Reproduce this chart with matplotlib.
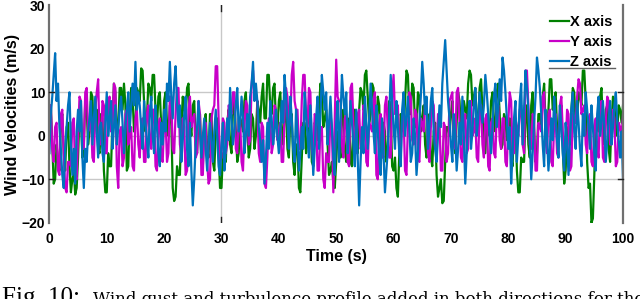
import numpy as np
import matplotlib
matplotlib.use("Agg")
import matplotlib.pyplot as plt
from matplotlib.lines import Line2D

# time span (s); samples are evenly spaced every 0.25 s
t_start, t_end = 0.0, 100.0

# X axis wind velocity (m/s), rows of 10 s
x_axis = [
    5, 7, -2, -11, -10, -2, -6, -8, 3, 5, -4, -8, 2, 3, -7, -13, -10, -8, -13.5, -12,
    -5, 5, 4, -5, -2, 8, 6, -2, 1, 10, 9, 0, 3, 6, -3, -4, 5, 4, -8, -13,
    -13, -4, -7, -7, 4, 12, 10, 0, 2, 11, 11, 6, 12, 7, -8, -7, 5, 11, 9, 1,
    3, 11, 10, 8, 15.5, 15, 8, 1, 4, 12, 11, 8, 14, 14, 6, 2, 9, 10, 2, -1,
    8, 10, 3, 0, 7, 3, -12, -15, -14, -7, -9, -9, 2, 9, 6, 4, 11, 12, 3, 0,
    7, 8, -2, -4, 4, 5, -5, -7, 2, 5, -3, -5, 5, 5, -6, -8, 1, 4, -4, -12,
    -12, -4, -5, -6, 3, 6, -2, -4, 6, 8, 1, -6, -4, 4, 3, 1, 8, 10, 2, -5,
    -3, 5, 4, -3, 0, 8, 6, 3, 9, 12, 4, 4, 14, 14, 7, 5, 11, 12, 3, 1,
    8, 10, 2, -2, 5, 6, -3, -5, 4, 5, -6, -9, -2, -2, -12, -13, -5, 3, 3, -4,
    -1, 7, 5, -6, -7, 3, 2, -1, 6, 12, 10, 2, 4, 6, -2, -9, -8, -6, -11, -12,
    -6, 1, -2, -5, 4, 6, -3, -6, 2, 4, -6, -7, 3, 6, -1, -4, 6, 11, 10, 6,
    14, 15, 9, 3, 5, 12, 11, 1, 2, 9, 7, -5, -5, 3, 1, -6, -3, 8, 6, -7,
    -8, -5, -12, -14, -4, 5, 3, 1, 8, 15, 14, 5, 5, 12, 11, 2, 2, 10, 9, 1,
    4, 7, -2, -5, 3, 5, -5, -7, 1, 3, -9, -14, -12, -10, -15.5, -15, -6, 2, 2, 0,
    5, 8, -1, -4, 3, 10, 8, 1, 2, 8, 6, 4, 12, 15, 14, 7, 9, 11, 4, 2,
    11, 13, 6, -4, -4, 3, 2, 0, 8, 10, 3, 1, 10, 12, 5, -3, -2, 5, 4, -1,
    2, 4, -5, -7, 3, 4, -8, -13, -13, -5, -6, -6, 4, 7, -2, -5, 7, 10, 1, -6,
    -4, 5, 5, 2, 9, 12, 3, 0, 6, 13, 13, 6, 8, 10, 2, -2, 5, 7, -3, -11,
    -8, 2, 1, -2, 6, 11, 10, 3, 4, 10, 9, 7, 15, 15, 8, -6, -12, -11, -20, -19,
    -9, 3, 4, 1, 9, 11, 2, -2, 6, 7, -3, -6, 3, 9, 8, 0, 1, 7, 6, 3,
    7,
]

# Y axis wind velocity (m/s)
y_axis = [
    6, 7, -3, -6, 2, 3, -8, -9, 5, 6, -4, -12, -13, -6, -6, -7, 3, 4, -9, -10,
    0, 9, 8, -3, -3, 10, 11, 1, 2, 4, -5, -6, 6, 10, 13, -1, -2, 8, 7, -4,
    -4, 8, 9, 1, 3, 12, 11, -7, -12, 1, 2, -7, -5, 5, 6, -2, 0, 2, -7, -8,
    4, 6, -2, -5, 3, 4, -6, -6, 5, 7, -1, -3, 6, 6, -7, -8, 2, 4, -5, -6,
    3, 4, -6, -4, 9, 9, -3, -4, 5, 11, 11, -2, -4, 4, 2, -9, -8, 6, 9, 2,
    4, 5, -5, -4, 8, 5, -9, -9, 2, 3, -6, -11, -10, 4, 6, 7, 16, 16, 4, -6,
    -5, 4, 3, -4, -2, 7, 6, 5, 10, 10, -3, -4, 4, 4, -6, -8, 2, 8, 7, -2,
    -1, 12, 15, 9, 9, 8, -4, -6, 3, 2, -11, -12, -5, 4, 4, -4, -2, 7, 6, -1,
    1, 3, -6, -6, 5, 11, 9, 2, 3, 14, 17, 8, 6, 6, -3, -3, 8, 14, 14, 4,
    2, 11, 10, -3, -5, 5, 4, -8, -8, 2, 2, -10, -12, -4, -6, -6, 5, 2, -13, 4,
    17.5, 9, 8, 8, -2, -5, 4, 5, -6, -7, 11, 12, 3, -4, -4, 5, 6, -3, -2, 7,
    5, -6, -7, 3, 2, 1, 8, 10, -9, -10, 3, 5, -4, -5, 7, 9, 1, -5, -5, 9,
    14, 5, 6, 7, -3, -5, 4, 5, -8, -9, 2, 10, 9, -1, -2, 6, 5, -5, -6, 4,
    3, 1, 8, 8, -4, -6, 2, 8, 7, -3, -3, 5, 4, -8, -8, 3, 2, -6, -4, 8,
    9, 10, -2, -3, 10, 11, 3, -5, -6, 4, 5, -4, -3, 8, 8, 0, 1, 4, -5, -6,
    6, 7, -2, -5, 4, 5, -7, -8, 3, 4, -4, -5, 6, 7, -1, -3, 4, 4, -6, -7,
    3, 10, 8, -4, -4, 4, 2, 0, 6, 7, -2, -4, 15, 15, 7, -2, -3, 5, 4, -8,
    -8, 3, 2, 1, 9, 10, -1, -4, 5, 6, -6, -7, 3, 5, -4, -5, 7, 9, 1, -4,
    -3, 6, 5, -8, -7, 5, 4, 3, 9, 13, 12, 5, 6, 7, -2, -4, 4, 5, -6, -7,
    2, 4, -3, -5, 7, 8, -5, -6, 3, 9, 8, -2, -2, 6, 4, -7, -6, 3, 2, 0,
    5,
]

# Z axis wind velocity (m/s)
z_axis = [
    -4, 5, 9, 14, 19, 8, 12, 2, -3, -9, -12, -3, 2, 7, 10, -2, -9, -3, -11, 1,
    6, 1, 8, -5, -12, -3, -6, 1, 4, 8, -2, 4, 9, 1, -5, 2, 3, -4, -6, 3,
    10, 0, 4, 8, -3, 2, 7, -2, 2, 6, 9, 3, -4, 2, 6, 10, 1, 7, 12, 7,
    17, 6, 10, 7, 2, -3, 8, 3, -1, -5, 5, 9, 0, -4, 7, 2, -4, -7, 3, -2,
    6, 1, 12, 8, 17, 9, 4, 12, 16, 8, 2, 7, -6, -1, 5, 9, -3, -7, 3, -8,
    -16, -10, -2, 2, 8, 1, -5, 0, 4, -3, -8, -2, 3, -1, -6, 1, 6, 0, -7, -9,
    -2, 3, -8, -3, 4, -1, 11, 4, -2, 1, 7, 11, 1, 3, 9, 4, -4, 0, 5, 0,
    9, 12, 17, 8, 12, 8, 2, -1, -6, -1, -11, -5, 3, -3, 8, 4, -2, 1, 6, 0,
    -4, 1, 8, 3, 14, 9, 3, -3, 9, 4, -3, -6, 6, 0, -8, -4, 2, -3, 10, 5,
    0, -5, 7, 0, -9, -3, 4, 9, -3, 5, 14, 10, 6, 10, -2, 3, 9, 2, -5, -9,
    3, 8, -6, 4, 14, 9, 5, 10, -4, 1, 8, 3, -2, -7, 6, -5, -16, -6, 2, -4,
    9, 3, -3, 4, 12, 6, 1, -4, 7, 1, -5, -9, 4, -4, -13, -8, -3, 5, 14, 8,
    2, -3, 8, 2, -4, -7, 6, 10, 0, 4, 9, 2, -6, -4, 4, 0, -9, -4, 3, 9,
    17, 12, 5, 9, -3, 2, 8, 11, 1, -3, -6, 0, 7, 2, 12, 17, 22, 15, 8, 4,
    -2, -6, 5, 0, -8, -3, 3, -2, 9, 0, -11, -4, 4, 8, -3, 1, 7, 11, 0, 4,
    10, 6, 3, 7, 14, 10, 5, 0, -4, 2, 9, 12, 2, 7, 13, 8, 18, 15, 10, 4,
    -3, 2, -11, -4, 4, 8, -6, 0, 8, 12, -2, 6, 15, 11, 6, -1, -10, -4, 3, 9,
    18, 15, 11, 5, -2, -7, 6, 0, -8, -3, 4, -1, 9, 4, -1, -5, 7, 2, -4, -8,
    3, -2, -9, -1, 6, 10, 1, -3, 8, 3, -3, -7, 5, 0, 10, 6, 2, -3, 7, 2,
    -4, -8, 5, 9, 0, 3, 8, 2, -6, -1, 4, 8, -2, 2, 7, 10, 3, -1, -5, 1,
    -10,
]

series_labels = ["X axis", "Y axis", "Z axis"]
x_ticks = [0, 10, 20, 30, 40, 50, 60, 70, 80, 90, 100]
y_ticks = [-20, -10, 0, 10, 20, 30]

plt.rcParams['font.family'] = ['Liberation Sans', 'DejaVu Sans']
plt.rcParams['path.simplify'] = False

fig = plt.figure(figsize=(6.4, 2.99), dpi=100)
W, H = 640, 299
ax = fig.add_axes([49.4 / W, 1 - 222.8 / H, (623 - 49.4) / W, (222.8 - 5.3) / H])

# grid-like reference lines
for yv in (-10, 0, 10):
    ax.axhline(yv, color='#c8c8c8', lw=1.0, zorder=0)
ax.axvline(30, color='#c8c8c8', lw=1.0, zorder=0)
ax.axvline(30, ymin=0, ymax=0.025, color='#222222', lw=1.0, zorder=5)
ax.axvline(30, ymin=0.975, ymax=1, color='#222222', lw=1.0, zorder=5)

colors = ['#008000', '#c800c8', '#0072bd']
for vals, lab, c in zip([x_axis, y_axis, z_axis], series_labels, colors):
    tt = np.linspace(t_start, t_end, len(vals))
    ax.plot(tt, vals, color=c, lw=1.6, label=lab)

ax.set_xlim(0, 100)
ax.set_ylim(-20, 30)
ax.set_xticks(x_ticks)
ax.set_yticks(y_ticks)
ax.tick_params(axis='both', length=0, labelsize=10)
ax.tick_params(axis='x', pad=6.5)
ax.tick_params(axis='y', pad=3)
for lbl in ax.get_xticklabels() + ax.get_yticklabels():
    lbl.set_fontweight('bold')

for s in ('top', 'bottom'):
    ax.spines[s].set_visible(False)
for s in ('left', 'right'):
    ax.spines[s].set_color('#707070')
    ax.spines[s].set_linewidth(1.6)

# inward ticks at +-10 on both sides
for yv in (-10, 10):
    ax.plot([0, 0.8], [yv, yv], color='#222222', lw=1.0, zorder=5, clip_on=False)
    ax.plot([99.2, 100], [yv, yv], color='#222222', lw=1.0, zorder=5, clip_on=False)

ax.set_xlabel('Time (s)', fontsize=11.5, fontweight='bold', labelpad=2)
ax.set_ylabel('Wind Velocities (m/s)', fontsize=11.6, fontweight='bold', labelpad=1)

leg = ax.legend(loc='upper right', bbox_to_anchor=(0.997, 0.995), frameon=False,
                prop={'weight': 'bold', 'size': 10.5}, handlelength=1.3,
                handletextpad=0.1, labelspacing=0.4, borderaxespad=0.2)
# rule under legend
fig.add_artist(Line2D([549 / W, 615 / W], [1 - 68 / H, 1 - 68 / H],
                      color='#606060', lw=1.0))

fig.text(2 / W, 1 - 303.5 / H, 'Fig. 10:', family=['Liberation Serif'], fontsize=18,
         ha='left', va='baseline')
fig.text(93 / W, 1 - 303.5 / H,
         'Wind gust and turbulence profile added in both directions for the',
         family=['DejaVu Serif'], fontsize=12.0, ha='left', va='baseline')

fig.savefig('out.png', dpi=100)
